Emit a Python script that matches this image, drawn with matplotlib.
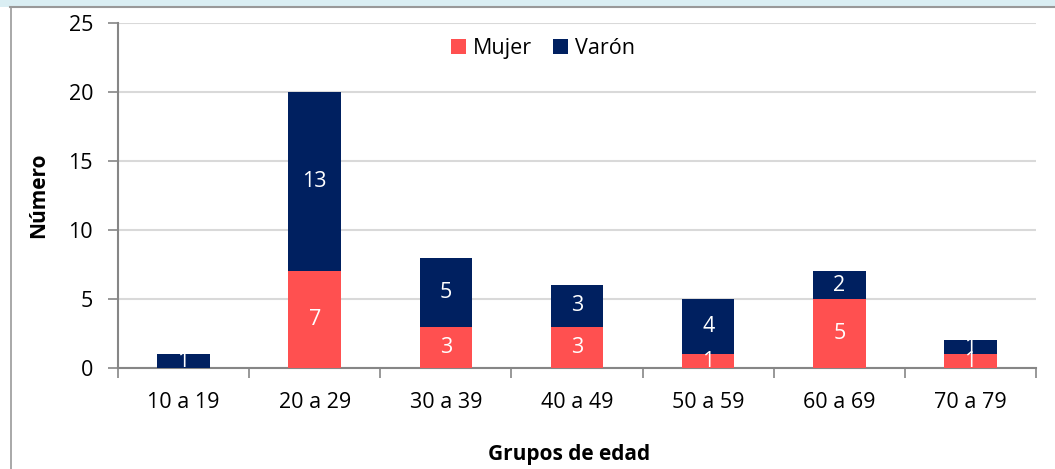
import matplotlib.pyplot as plt
import numpy as np
from matplotlib.lines import Line2D
from matplotlib.patches import Rectangle

plt.rcParams['font.family'] = ['Open Sans', 'DejaVu Sans']

grupos = ['10 a 19', '20 a 29', '30 a 39', '40 a 49', '50 a 59', '60 a 69', '70 a 79']
mujer = [0, 7, 3, 3, 1, 5, 1]
varon = [1, 13, 5, 3, 4, 2, 1]

COL_MUJER = '#FF5050'
COL_VARON = '#002060'
GRID = '#D9D9D9'
AXIS = '#868686'
FS = 15.5

fig = plt.figure(figsize=(10.55, 4.69), dpi=100)

# outer frame bits (blue band on top, grey border)
fig.add_artist(Rectangle((0, 1 - 7 / 469), 1, 7 / 469, transform=fig.transFigure,
                         color='#DAEEF3', lw=0))
fig.add_artist(Line2D([10 / 1055, 1], [1 - 7.5 / 469] * 2, transform=fig.transFigure,
                      color='#999999', lw=1.5))
fig.add_artist(Line2D([10.5 / 1055] * 2, [0, 1 - 7.5 / 469], transform=fig.transFigure,
                      color='#999999', lw=1.2))

ax = fig.add_axes([118 / 1055, 1 - 368 / 469, (1036 - 118) / 1055, (368 - 23) / 469])

x = np.arange(len(grupos))
w = 0.4
ax.bar(x, mujer, w, color=COL_MUJER, label='Mujer', zorder=3)
ax.bar(x, varon, w, bottom=mujer, color=COL_VARON, label='Varón', zorder=3)

for i in range(len(grupos)):
    if mujer[i] > 0:
        ax.text(x[i], mujer[i] / 2, str(mujer[i]), color='white', ha='center',
                va='center', fontsize=FS, zorder=4)
    if varon[i] > 0:
        ax.text(x[i], mujer[i] + varon[i] / 2, str(varon[i]), color='white', ha='center',
                va='center', fontsize=FS, zorder=4)

ax.set_xlim(-0.5, len(grupos) - 0.5)
ax.set_ylim(0, 25)
ax.set_yticks(range(0, 26, 5))
ax.set_xticks(x)
ax.set_xticklabels(grupos)
ax.set_xticks(np.arange(-0.5, len(grupos), 1), minor=True)
ax.tick_params(axis='x', which='major', length=0, labelsize=FS, pad=17)
ax.tick_params(axis='x', which='minor', length=7, color=AXIS, width=1.2)
ax.tick_params(axis='y', length=7, color=AXIS, width=1.2, labelsize=FS, pad=11)

for s in ['top', 'right']:
    ax.spines[s].set_visible(False)
for s in ['left', 'bottom']:
    ax.spines[s].set_color(AXIS)
    ax.spines[s].set_linewidth(1.5)

ax.yaxis.grid(True, color=GRID, lw=1.5, zorder=0)
ax.set_axisbelow(True)

ax.set_ylabel('Número', fontweight='bold', fontsize=FS - 0.5, labelpad=14)
ax.set_xlabel('Grupos de edad', fontweight='bold', fontsize=FS - 0.5, labelpad=18)
ax.xaxis.set_label_coords(0.491, -0.22)

ax.legend(loc='upper center', bbox_to_anchor=(0.463, 1.012), ncol=2, frameon=False,
          fontsize=FS, handlelength=0.7, handleheight=0.7, handletextpad=0.3,
          columnspacing=1.0)

fig.savefig('out.png', dpi=100)
